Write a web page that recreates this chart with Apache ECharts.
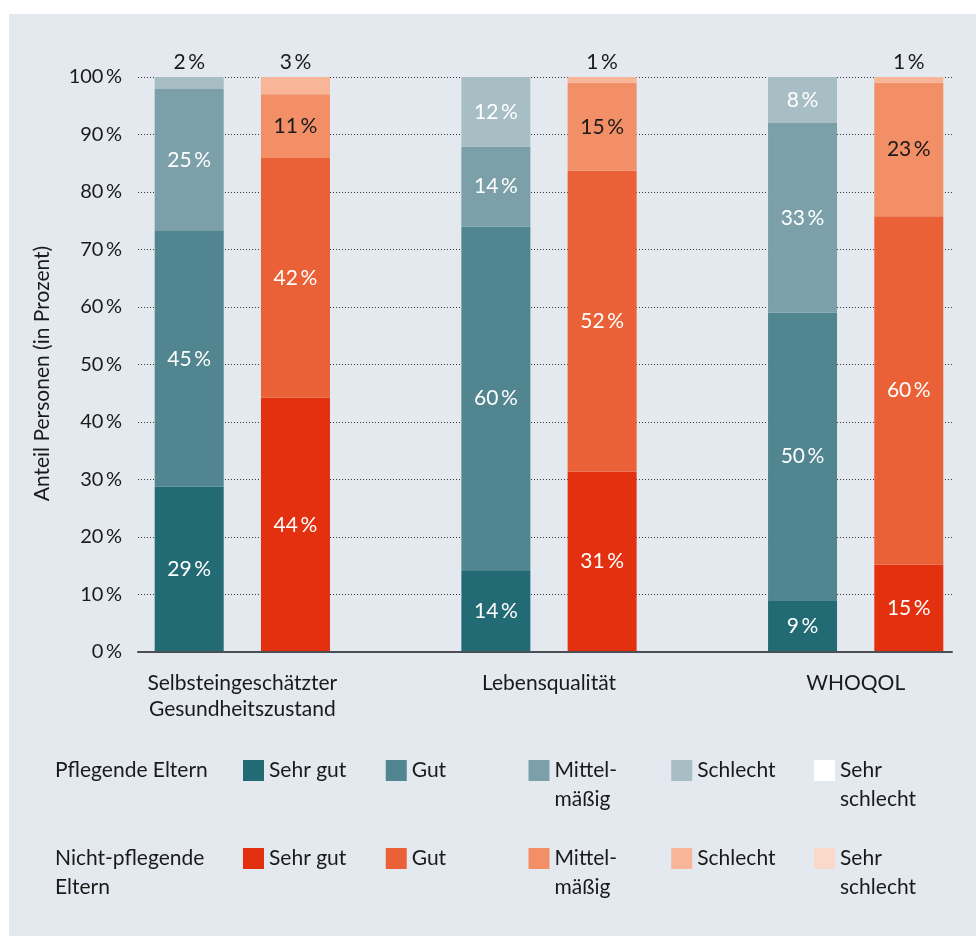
<!DOCTYPE html>
<html>
<head>
<meta charset="utf-8">
<script src="https://cdn.jsdelivr.net/npm/echarts@6/dist/echarts.min.js"></script>
<style>
  html, body { margin: 0; padding: 0; background: #ffffff; }
  #chart { width: 976px; height: 936px; }
</style>
</head>
<body>
<div id="chart"></div>
<script>
// ---------- data ----------
const categories = ['Selbsteingeschätzter\nGesundheitszustand', 'Lebensqualität', 'WHOQOL'];
const levels = ['Sehr gut', 'Gut', 'Mittel-\nmäßig', 'Schlecht', 'Sehr\nschlecht'];
const yTicks = [0, 10, 20, 30, 40, 50, 60, 70, 80, 90, 100];

// Pflegende Eltern (bar heights, in %)
const pflegendeSehrGut     = [28.8, 14.1, 9.0];
const pflegendeGut         = [44.4, 59.9, 50.0];
const pflegendeMittel      = [24.7, 13.9, 33.0];
const pflegendeSchlecht    = [2.1, 12.1, 8.0];
const pflegendeSehrSchlecht = [0, 0, 0];
// printed labels
const pflegendeSehrGutLabel  = [29, 14, 9];
const pflegendeGutLabel      = [45, 60, 50];
const pflegendeMittelLabel   = [25, 14, 33];
const pflegendeSchlechtLabel = [2, 12, 8];

// Nicht-pflegende Eltern
const nichtSehrGut     = [44.2, 31.4, 15.2];
const nichtGut         = [41.7, 52.3, 60.6];
const nichtMittel      = [11.1, 15.3, 23.2];
const nichtSchlecht    = [3.0, 1.0, 1.0];
const nichtSehrSchlecht = [0, 0, 0];
const nichtSehrGutLabel  = [44, 31, 15];
const nichtGutLabel      = [42, 52, 60];
const nichtMittelLabel   = [11, 15, 23];
const nichtSchlechtLabel = [3, 1, 1];

// ---------- styling ----------
const FONT = 'Lato';
const TXT = '#1a1a1a';
const pColors = ['#226b74', '#51858f', '#7ba0a9', '#a7bec4', '#ffffff'];
const nColors = ['#e3300f', '#eb6137', '#f28f67', '#f8b597', '#fbd9ca'];

const pValues = [pflegendeSehrGut, pflegendeGut, pflegendeMittel, pflegendeSchlecht, pflegendeSehrSchlecht];
const pLabels = [pflegendeSehrGutLabel, pflegendeGutLabel, pflegendeMittelLabel, pflegendeSchlechtLabel, null];
const nValues = [nichtSehrGut, nichtGut, nichtMittel, nichtSchlecht, nichtSehrSchlecht];
const nLabels = [nichtSehrGutLabel, nichtGutLabel, nichtMittelLabel, nichtSchlechtLabel, null];
// label colour inside the segment
const pLabelColors = ['#ffffff', '#ffffff', '#ffffff', '#ffffff', TXT];
const nLabelColors = ['#ffffff', '#ffffff', TXT, TXT, TXT];

function makeSeries(prefix, stack, values, labels, colors, labelColors) {
  return values.map((vals, i) => ({
    name: prefix + levels[i],
    type: 'bar',
    stack: stack,
    xAxisIndex: 1,
    yAxisIndex: 1,
    barWidth: 69,
    barGap: '54%',
    itemStyle: { color: colors[i] },
    emphasis: { disabled: true },
    data: vals.map((v, j) => {
      const small = v < 5;
      return {
        value: v,
        label: {
          show: labels[i] != null,
          position: small ? 'top' : 'inside',
          distance: 4,
          color: small ? TXT : labelColors[i],
          fontFamily: FONT,
          fontSize: 21,
          formatter: () => labels[i][j] + '\u2009%'
        }
      };
    })
  }));
}

const series = [].concat(
  makeSeries('P|', 'pflegend', pValues, pLabels, pColors, pLabelColors),
  makeSeries('N|', 'nicht', nValues, nLabels, nColors, nLabelColors)
);

// legends: one per item
const legends = [];
['P|', 'N|'].forEach((prefix, row) => {
  levels.forEach((lv, i) => {
    const lines = lv.split('\n');
    legends.push({
      data: [prefix + lv],
      left: 243 + i * 142.75,
      top: (row === 0 ? 757 : 845) - 33,
      padding: 0,
      itemWidth: 21,
      itemHeight: 21,
      icon: 'rect',
      selectedMode: false,
      itemStyle: { borderWidth: 0 },
      formatter: () => '\n' + lines[0] + '\n' + (lines[1] || ''),
      textStyle: { fontFamily: FONT, fontSize: 21, color: TXT, lineHeight: 29, padding: [6, 0, 0, 0] }
    });
  });
});

const option = {
  backgroundColor: '#ffffff',
  animation: false,
  graphic: [
    { type: 'rect', z: -10, silent: true, shape: { x: 9, y: 14, width: 967, height: 922 }, style: { fill: '#e3e9ef' } },
    { type: 'text', left: 55, top: 756, silent: true,
      style: { text: 'Pflegende Eltern', font: '21px ' + FONT, fill: TXT, lineHeight: 29 } },
    { type: 'text', left: 55, top: 844, silent: true,
      style: { text: 'Nicht-pflegende\nEltern', font: '21px ' + FONT, fill: TXT, lineHeight: 29 } }
  ],
  grid: [
    { left: 138, right: 24, top: 77, bottom: 284, outerBoundsMode: 'none' },
    { left: 89, right: -33, top: 77, bottom: 284, outerBoundsMode: 'none' }
  ],
  xAxis: [
    {
      gridIndex: 0, type: 'value', min: 0, max: 1, z: 10,
      axisLabel: { show: false }, axisTick: { show: false }, splitLine: { show: false },
      axisLine: { show: true, lineStyle: { color: '#4b4f54', width: 2 } }
    },
    {
      gridIndex: 1, type: 'category', data: categories,
      axisLine: { show: false }, axisTick: { show: false },
      axisLabel: { margin: 18, fontFamily: FONT, fontSize: 21, color: TXT, lineHeight: 26, interval: 0 }
    }
  ],
  yAxis: [
    {
      gridIndex: 0, type: 'value', min: yTicks[0], max: yTicks[yTicks.length - 1], interval: 10,
      name: 'Anteil Personen (in Prozent)', nameLocation: 'middle', nameGap: 85,
      nameTextStyle: { fontFamily: FONT, fontSize: 21, color: TXT, padding: [0, 18, 0, 0] },
      axisLine: { show: false }, axisTick: { show: false },
      axisLabel: { margin: 16, fontFamily: FONT, fontSize: 20, color: TXT, formatter: v => v + '\u2009%' },
      splitLine: { show: true, lineStyle: { color: '#333333', width: 1.2, type: [1, 2] } }
    },
    {
      gridIndex: 1, type: 'value', min: 0, max: 100, show: false, splitLine: { show: false }
    }
  ],
  legend: legends,
  series: series
};

const chart = echarts.init(document.getElementById('chart'), null, { renderer: 'canvas' });
chart.setOption(option);
</script>
</body>
</html>
